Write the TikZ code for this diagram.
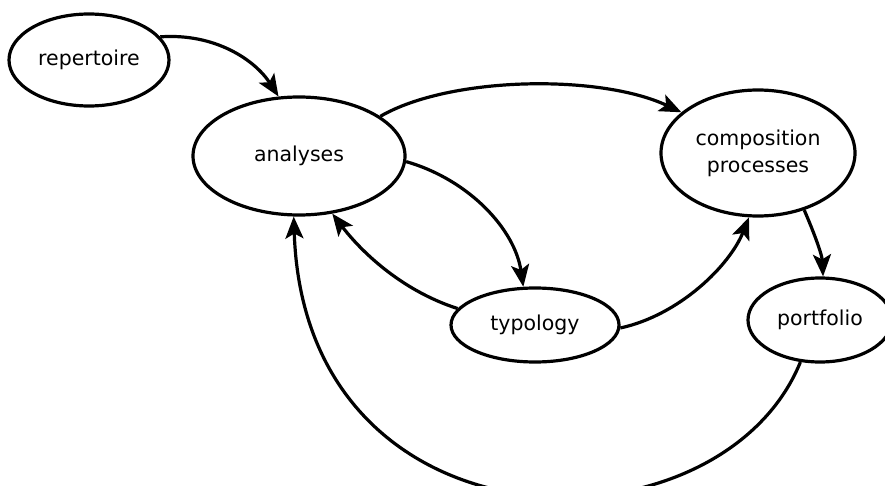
\documentclass[tikz,border=0pt]{standalone}
\usepackage{fontspec}
\setmainfont{DejaVu Sans}
\usetikzlibrary{shapes.geometric,arrows.meta}
\tikzset{
  topic/.style={draw, ellipse, line width=3.2pt, inner sep=0pt, align=center,
    font=\fontsize{20.5}{27}\selectfont},
  link/.style={line width=3.2pt, -{Stealth[length=22pt,width=18pt,inset=5pt]}}
}
\begin{document}
\begin{tikzpicture}[x=1pt,y=-1pt]
  \useasboundingbox (0,0) rectangle (885,486);
  \clip (0,0) rectangle (885,486);
  % topics
  \node[topic, minimum width=160pt, minimum height=92pt] (rep) at (89,60) {repertoire};
  \node[topic, minimum width=212pt, minimum height=118pt] (ana) at (299,156) {analyses};
  \node[topic, minimum width=194pt, minimum height=126pt] (comp) at (758,153) {composition\\processes};
  \node[topic, minimum width=168pt, minimum height=74pt] (typ) at (535,325) {typology};
  \node[topic, minimum width=144pt, minimum height=84pt] (port) at (820,320) {portfolio};
  % links between topics
  \draw[link] (rep.18.7) .. controls (215,33) and (255,60) .. (ana.109);
  \draw[link] (ana.26) .. controls (450,76) and (600,74) .. (comp.152);
  \draw[link] (ana.-3) .. controls (470,180) and (515,230) .. (typ.107.5);
  \draw[link] (typ.168) .. controls (400,290) and (360,250) .. (ana.-60);
  \draw[link] (typ.-2) .. controls (680,315) and (730,265) .. (comp.-98.7);
  \draw[link] (comp.-51) .. controls (815,235) and (822,255) .. (port.86);
  \draw[link] (port.-115) .. controls (720,560) and (305,560) .. (ana.-95.5);
\end{tikzpicture}
\end{document}
